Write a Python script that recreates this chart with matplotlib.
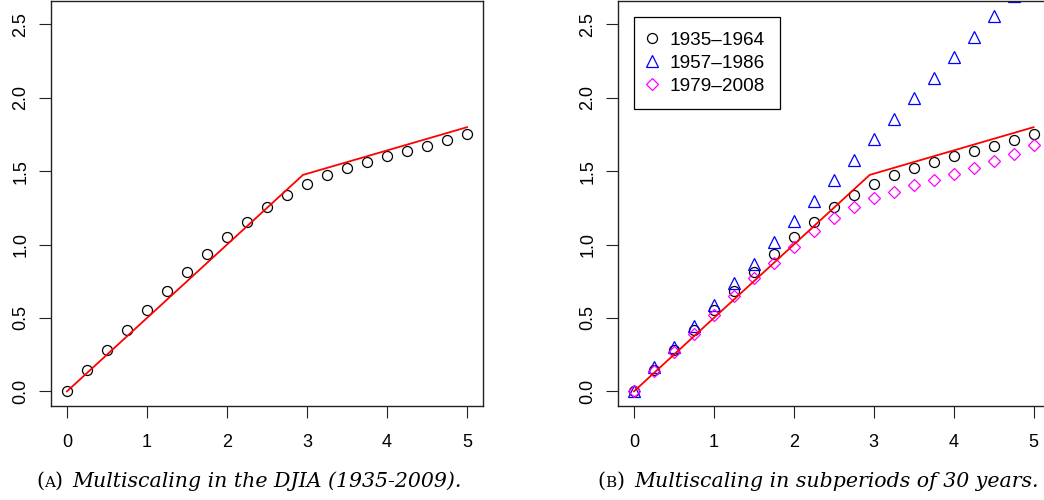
import matplotlib
matplotlib.use("Agg")
from matplotlib import pyplot as plt

# moment orders q
q = [0, 0.25, 0.5, 0.75, 1, 1.25, 1.5, 1.75, 2, 2.25, 2.5,
     2.75, 3, 3.25, 3.5, 3.75, 4, 4.25, 4.5, 4.75, 5]

# estimated scaling exponents, full sample
djia = [0.0, 0.143, 0.284, 0.421, 0.553, 0.685, 0.810, 0.933, 1.049, 1.156, 1.253,
        1.340, 1.413, 1.474, 1.522, 1.563, 1.601, 1.636, 1.672, 1.713, 1.756]

# subperiods
per_1957 = [0.0, 0.165, 0.300, 0.446, 0.590, 0.735, 0.870, 1.017, 1.158, 1.299, 1.438,
            1.579, 1.720, 1.859, 1.997, 2.138, 2.277, 2.416, 2.555, 2.694, 2.833]
per_1979 = [0.0, 0.139, 0.268, 0.394, 0.519, 0.648, 0.769, 0.876, 0.985, 1.092, 1.178,
            1.253, 1.315, 1.360, 1.404, 1.438, 1.479, 1.520, 1.568, 1.620, 1.679]

# fitted theoretical curve (piecewise linear)
fit_q = [0, 2.95, 5]
fit_z = [0, 1.475, 1.80]

labels = ["1935\u20131964", "1957\u20131986", "1979\u20132008"]

W, H = 1044, 500
fig = plt.figure(figsize=(W / 100, H / 100), dpi=100)

sans = "Liberation Sans"
serif = "DejaVu Serif"

def setup(ax):
    ax.set_xlim(-0.2, 5.2)
    ax.set_ylim(-0.1, 2.66)
    ax.set_xticks([0, 1, 2, 3, 4, 5])
    ax.set_yticks([0.0, 0.5, 1.0, 1.5, 2.0, 2.5])
    ax.set_yticklabels(["0.0", "0.5", "1.0", "1.5", "2.0", "2.5"])
    ax.tick_params(length=8.5, width=0.8, color="#222222", labelsize=13, pad=11.5)
    ax.tick_params(axis="y", labelrotation=90, pad=7)
    for lab in ax.get_yticklabels():
        lab.set_va("center")
    for lab in ax.get_xticklabels() + ax.get_yticklabels():
        lab.set_family(sans)
    for s in ax.spines.values():
        s.set_linewidth(1.0)
        s.set_color("#222222")

circ = dict(marker="o", ms=7.2, mfc="none", mec="black", mew=0.9, ls="none")
tri = dict(marker="^", ms=8.5, mfc="none", mec="blue", mew=0.9, ls="none")
dia = dict(marker="D", ms=6.5, mfc="none", mec="magenta", mew=0.9, ls="none")

# left panel
ax1 = fig.add_axes([51 / W, (H - 406) / H, 432 / W, 405 / H])
ax1.plot(q, djia, **circ)
ax1.plot(fit_q, fit_z, color="red", lw=1.3)
setup(ax1)

# right panel (runs past the figure edge)
ax2 = fig.add_axes([618 / W, (H - 406) / H, 431.5 / W, 405 / H])
h1, = ax2.plot(q, djia, **circ)
h2, = ax2.plot(q, per_1957, **tri)
h3, = ax2.plot(q, per_1979, **dia)
ax2.plot(fit_q, fit_z, color="red", lw=1.3)
setup(ax2)
leg = ax2.legend([h1, h2, h3], labels, loc="upper left",
                 bbox_to_anchor=(16 / 431.5, 389 / 405), borderaxespad=0,
                 fancybox=False, framealpha=1, edgecolor="black",
                 prop={"family": sans, "size": 13.7}, handlelength=0.4,
                 handletextpad=0.74, labelspacing=0.3, borderpad=0.75)
leg.get_frame().set_linewidth(0.9)

# captions: "(A)" with a small letter, then the italic title
def caption(x_px, letter, text, size=14.8):
    base = (H - 487) / H
    t0 = fig.text(x_px / W, base, "(", family=serif, fontsize=size, va="baseline")
    t1 = ax1.annotate(letter, xy=(1, base), xycoords=(t0, "figure fraction"),
                      family=serif, fontsize=size * 0.74, va="baseline",
                      annotation_clip=False)
    t2 = ax1.annotate(")", xy=(1, base), xycoords=(t1, "figure fraction"),
                      family=serif, fontsize=size, va="baseline", annotation_clip=False)
    ax1.annotate(text, xy=(1, base), xycoords=(t2, "figure fraction"),
                 xytext=(7, 0), textcoords="offset points",
                 family=serif, style="italic", fontsize=size, va="baseline",
                 annotation_clip=False)

caption(36, "A", "Multiscaling in the DJIA (1935-2009).")
caption(597, "B", "Multiscaling in subperiods of 30 years.")

fig.savefig("out.png", dpi=100)
